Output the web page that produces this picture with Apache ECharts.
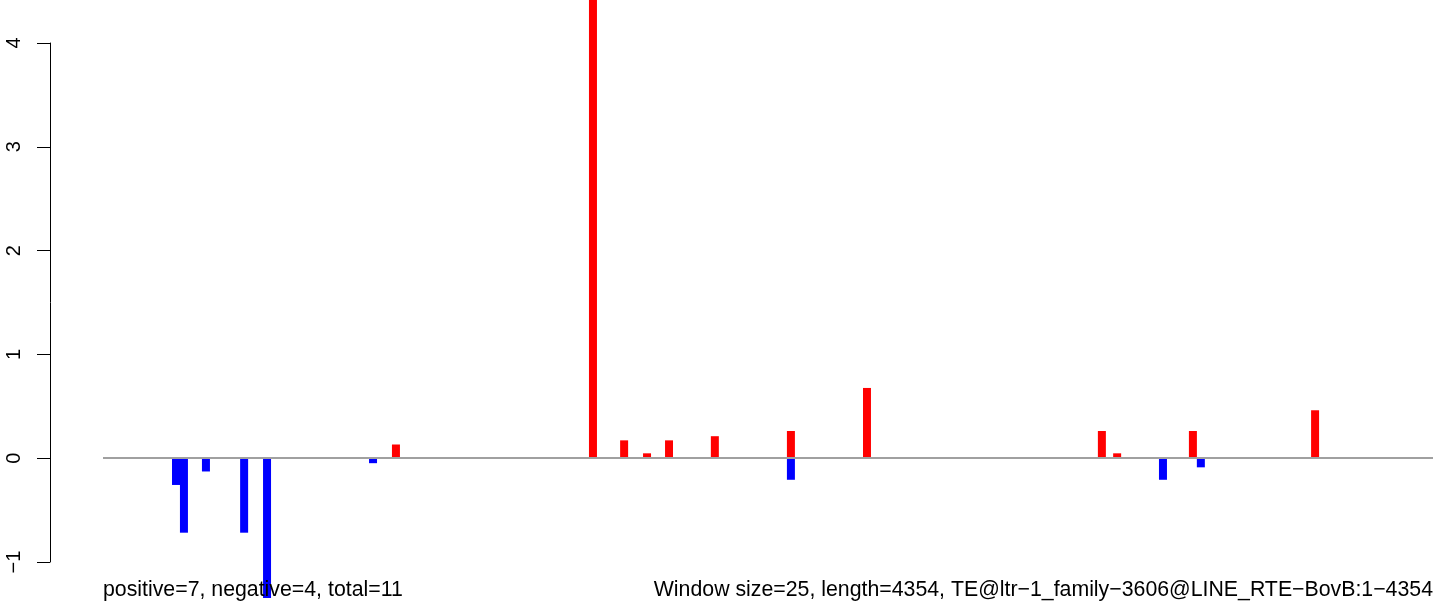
<!DOCTYPE html>
<html>
<head>
<meta charset="utf-8">
<script src="https://cdn.jsdelivr.net/npm/echarts@6/dist/echarts.min.js"></script>
<style>
html,body{margin:0;padding:0;background:#fff;}
#chart{width:1444px;height:606px;}
</style>
</head>
<body>
<div id="chart"></div>
<script>
// Data (x positions in bp along the 4354 bp element)
const seqLength = 4354;
const positivePos = [959, 1604, 1706, 1781, 1853, 2003, 2252, 2501, 3270, 3320, 3568, 3968];
const positiveVal = [0.13, 4.6, 0.17, 0.045, 0.17, 0.21, 0.26, 0.675, 0.26, 0.045, 0.26, 0.46];
const negativePos = [239, 265, 337, 462, 537, 884, 2252, 3470, 3594];
const negativeVal = [-0.26, -0.72, -0.13, -0.72, -1.35, -0.05, -0.21, -0.21, -0.09];
const yTicks = [-1, 0, 1, 2, 3, 4];
const leftText = 'positive=7, negative=4, total=11';
const rightText = 'Window size=25, length=4354, TE@ltr\u22121_family\u22123606@LINE_RTE\u2212BovB:1\u22124354';

const FONT = '"Liberation Sans", Arial, sans-serif';
const chart = echarts.init(document.getElementById('chart'), null, {renderer: 'canvas'});

const redData = positivePos.map((p, i) => [p, positiveVal[i]]);
const blueData = negativePos.map((p, i) => [p, negativeVal[i]]);

chart.setOption({
  animation: false,
  backgroundColor: '#ffffff',
  title: [
    {text: leftText, left: 103, top: 580, padding: 0,
     textStyle: {fontFamily: FONT, fontSize: 21.3, fontWeight: 'normal', color: '#000'}},
    {text: rightText, right: 11, top: 580, padding: 0,
     textStyle: {fontFamily: FONT, fontSize: 21.3, fontWeight: 'normal', color: '#000'}}
  ],
  grid: [
    {left: 103, right: 11, top: 0, bottom: 0, containLabel: false},
    {left: 50, width: 1, top: 43, bottom: 44, containLabel: false}
  ],
  xAxis: [
    {gridIndex: 0, type: 'value', min: 0, max: seqLength, show: false},
    {gridIndex: 1, type: 'value', min: 0, max: 1, show: false}
  ],
  yAxis: [
    {gridIndex: 0, type: 'value', min: -1.4265, max: 4.414, show: false},
    {gridIndex: 1, type: 'value', min: yTicks[0], max: yTicks[yTicks.length - 1], interval: 1,
     position: 'left',
     axisLine: {show: true, lineStyle: {color: '#000', width: 1}},
     axisTick: {show: true, length: 13, lineStyle: {color: '#000', width: 1}},
     axisLabel: {show: true, rotate: 90, margin: 26, color: '#000',
                 fontFamily: FONT, fontSize: 20,
                 formatter: v => (v < 0 ? '\u2212' + Math.abs(v) : String(v))},
     splitLine: {show: false}}
  ],
  series: [
    {type: 'bar', xAxisIndex: 0, yAxisIndex: 0, data: redData, barWidth: 8, barGap: '-100%',
     itemStyle: {color: '#ff0000'}, clip: true, z: 2,
     markLine: {silent: true, symbol: 'none', label: {show: false},
                lineStyle: {color: '#a0a0a0', width: 2, type: 'solid'},
                data: [{yAxis: 0}], z: 3}},
    {type: 'bar', xAxisIndex: 0, yAxisIndex: 0, data: blueData, barWidth: 8, barGap: '-100%',
     itemStyle: {color: '#0000ff'}, clip: true, z: 2}
  ]
});
</script>
</body>
</html>
